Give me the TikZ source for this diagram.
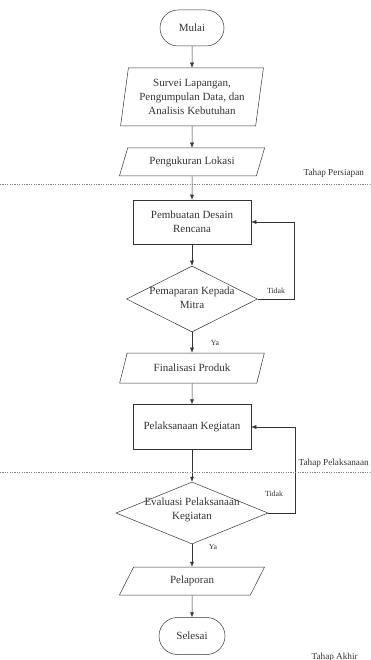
\documentclass[tikz,border=0pt]{standalone}
\usepackage{fontspec}
\setmainfont{Liberation Serif}
\usetikzlibrary{shapes.geometric,shapes.misc,arrows.meta}
\definecolor{ink}{gray}{0.2}
\tikzset{
  terminal/.style={draw=ink, rounded rectangle, minimum width=64pt, minimum height=36pt, inner sep=0pt},
  io/.style={draw=ink, trapezium, trapezium left angle=65, trapezium right angle=115,
    trapezium stretches=true, minimum width=146pt, minimum height=28pt, inner sep=1pt, align=center},
  process/.style={draw=ink, rectangle, minimum width=118pt, minimum height=44pt, align=center},
  decision/.style={draw=ink, diamond, minimum width=131pt, minimum height=66pt, inner sep=0pt},
  flow/.style={draw=ink, -{Latex[length=5pt,width=4pt]}},
  sep/.style={gray, dash pattern=on 1.2pt off 1.2pt},
  phase/.style={font=\fontsize{9.2}{10}\selectfont, anchor=west, text=ink},
  answer/.style={font=\fontsize{7.8}{9}\selectfont, text=ink}
}
\begin{document}
\begin{tikzpicture}[x=1pt, y=-1pt, font=\fontsize{11}{14}\selectfont, text=ink, line width=0.5pt]
\useasboundingbox (0,0) rectangle (371,660);

% tahap persiapan
\node[terminal] (mulai) at (192,28) {Mulai};
\node[io, trapezium left angle=80, trapezium right angle=100, minimum width=143pt, minimum height=58pt]
  (survei) at (192,97) {Survei Lapangan,\\Pengumpulan Data, dan\\Analisis Kebutuhan};
\node[io] (ukur) at (192,162) {Pengukuran Lokasi};

% tahap pelaksanaan
\node[process] (desain) at (192,222) {Pembuatan Desain\\Rencana};
\node[decision, label={[align=center, yshift=1pt]center:Pemaparan Kepada\\Mitra}] (paparan) at (192,299) {};
\node[io, minimum height=30pt] (final) at (192,368) {Finalisasi Produk};
\node[process, minimum height=45pt] (laksana) at (192,427) {Pelaksanaan Kegiatan};

% tahap akhir
\node[decision, minimum width=152pt, minimum height=62pt,
  label={[align=center, yshift=3pt]center:Evaluasi Pelaksanaan\\Kegiatan}] (evaluasi) at (192,513) {};
\node[io] (lapor) at (192,581) {Pelaporan};
\node[terminal, minimum width=66pt, minimum height=37pt] (selesai) at (192,636) {Selesai};

% alur utama
\draw[flow] (mulai) -- (survei);
\draw[flow] (survei) -- (ukur);
\draw[flow] (ukur) -- (desain);
\draw[flow] (desain) -- (paparan);
\draw[flow] (paparan) -- (final);
\draw[flow] (final) -- (laksana);
\draw[flow] (laksana) -- (evaluasi);
\draw[flow] (evaluasi) -- (lapor);
\draw[flow] (lapor) -- (selesai);

% umpan balik
\draw[flow] (paparan.east) -- ++(36,0) |- (desain.east);
\draw[flow] (evaluasi.east) -- ++(27,0) |- (laksana.east);

\node[answer] (tidak1) at (276,291) {Tidak};
\node[answer] (ya1) at (215,343) {Ya};
\node[answer] (tidak2) at (274,494) {Tidak};
\node[answer] (ya2) at (213,547) {Ya};

% batas tahap
\foreach \y in {184,472}
  \draw[sep] (0,\y) -- (371,\y);
\node[phase] (persiapan) at (300,173) {Tahap Persiapan};
\node[phase] (pelaksanaan) at (295,463) {Tahap Pelaksanaan};
\node[phase] (akhir) at (308,657) {Tahap Akhir};
\end{tikzpicture}
\end{document}
